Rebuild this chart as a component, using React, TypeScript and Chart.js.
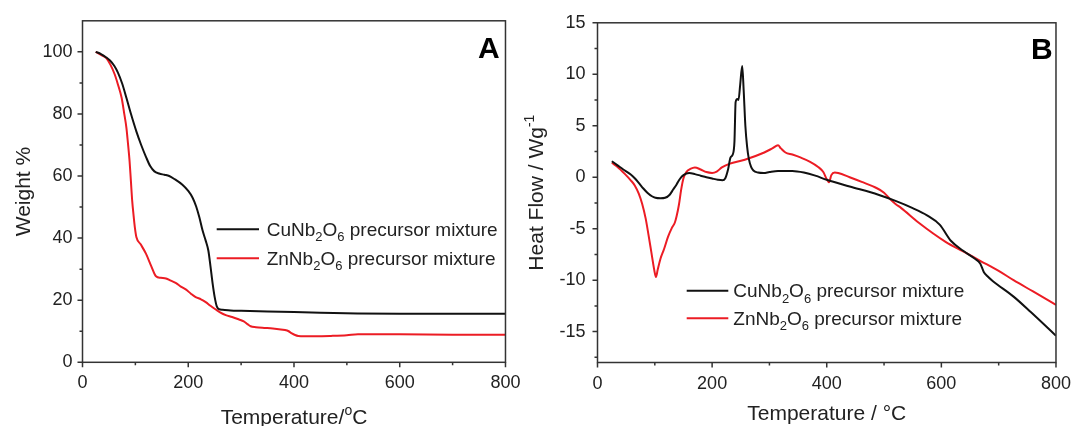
import React, { useEffect, useRef } from 'react';
import { Chart, registerables } from 'chart.js';
Chart.register(...registerables);

// ---------- data ----------
const TGA_CU_T = [25, 35, 45, 52, 60, 67, 75, 83, 92, 102, 111, 120, 128, 136, 145, 155, 164, 175, 189, 200, 208, 215, 221, 227, 233, 238, 242, 246, 250, 254, 258, 265, 280, 300, 350, 400, 450, 520, 600, 700, 800];
const TGA_CU_W = [100, 99.3, 98.2, 97.2, 95.5, 93.3, 89.8, 85.2, 79.8, 74.3, 70, 66.2, 63.2, 61.5, 60.8, 60.4, 60, 58.9, 57.2, 55.2, 53.1, 50.2, 46.7, 42.5, 39.2, 36, 31, 25.5, 21, 18, 17.1, 16.9, 16.7, 16.6, 16.4, 16.2, 16, 15.7, 15.6, 15.6, 15.6];
const TGA_ZN_T = [25, 35, 45, 53, 61, 67, 74, 79, 83, 86, 89, 91.5, 94, 96.5, 99, 102, 110, 120, 130, 139, 148, 158, 167, 177, 186, 196, 205, 214, 224, 233, 242, 252, 261, 271, 283, 296, 305, 312, 318, 328, 340, 360, 383, 390, 396, 402, 408, 420, 442, 470, 500, 521, 560, 600, 700, 800];
const TGA_ZN_W = [100, 99, 98, 95.8, 92.7, 89.5, 85.2, 80, 75.6, 70.5, 64.9, 58.5, 52, 47.5, 43.5, 40.3, 38, 35, 31, 27.7, 27.2, 27, 26.3, 25.5, 24.4, 23.4, 22.1, 21, 20.3, 19.4, 18.2, 17, 16, 15.2, 14.6, 13.8, 13.2, 12.3, 11.6, 11.3, 11.1, 10.9, 10.4, 10, 9.3, 8.8, 8.5, 8.4, 8.4, 8.5, 8.7, 9, 9, 9, 8.9, 8.9];

const DSC_CU_T = [25, 35, 45, 58, 65, 72, 80, 87, 95, 101, 110, 118, 126, 132, 138, 144, 150, 160, 170, 180, 190, 200, 210, 218, 223, 228, 232, 236, 239, 241, 244, 246, 249, 252.5, 255, 258, 261, 264, 268, 272, 280, 290, 300, 315, 340, 360, 380, 400, 440, 490, 520, 550, 575, 597, 617, 638, 658, 668, 674, 680, 690, 726, 756, 800];
const DSC_CU_H = [1.55, 1.15, 0.75, 0.26, -0.1, -0.55, -1.1, -1.5, -1.85, -2, -2.05, -2, -1.7, -1.2, -0.7, -0.15, 0.2, 0.4, 0.3, 0.15, 0, -0.13, -0.25, -0.3, -0.1, 0.8, 1.9, 2.2, 3.5, 7.3, 7.6, 7.5, 9, 10.8, 8.5, 5, 3, 1.8, 1, 0.65, 0.45, 0.4, 0.5, 0.6, 0.6, 0.45, 0.15, -0.25, -0.9, -1.7, -2.3, -3, -3.7, -4.6, -6.2, -7.15, -7.9, -8.4, -9.2, -9.6, -10.1, -11.6, -13.1, -15.4];
const DSC_ZN_T = [25, 35, 48, 58, 65, 72, 78, 84, 89, 94, 99, 102, 105, 110, 116, 123, 130, 135, 138, 142, 146, 150, 155, 162, 170, 180, 190, 200, 208, 217, 230, 257, 291, 305, 315, 320, 328, 340, 355, 371, 385, 394, 400, 404, 408, 414, 420, 440, 461, 485, 500, 510, 520, 530, 560, 608, 638, 667, 700, 726, 760, 800];
const DSC_ZN_H = [1.4, 1, 0.3, -0.3, -0.8, -1.6, -2.6, -4, -5.6, -7.3, -9, -9.7, -9, -7.9, -7, -5.8, -4.9, -4.4, -3.8, -2.7, -1.2, -0.1, 0.5, 0.8, 0.95, 0.75, 0.5, 0.42, 0.55, 0.95, 1.3, 1.7, 2.4, 2.8, 3.1, 2.8, 2.4, 2.2, 1.9, 1.5, 1, 0.5, -0.2, -0.5, 0.2, 0.45, 0.4, 0, -0.45, -1, -1.5, -2.1, -2.6, -3, -4.4, -6.3, -7.2, -8.1, -9.1, -10, -11.1, -12.4];

const X_TICKS = [0, 200, 400, 600, 800];
const X_MINOR = [100, 300, 500, 700];
const A_Y_TICKS = [0, 20, 40, 60, 80, 100];
const A_Y_MINOR = [10, 30, 50, 70, 90];
const B_Y_TICKS = [-15, -10, -5, 0, 5, 10, 15];
const B_Y_MINOR = [-17.5, -12.5, -7.5, -2.5, 2.5, 7.5, 12.5];

type Part = { t: string; k?: 'sub' | 'sup' };
const CU_LABEL: Part[] = [{ t: 'CuNb' }, { t: '2', k: 'sub' }, { t: 'O' }, { t: '6', k: 'sub' }, { t: ' precursor mixture' }];
const ZN_LABEL: Part[] = [{ t: 'ZnNb' }, { t: '2', k: 'sub' }, { t: 'O' }, { t: '6', k: 'sub' }, { t: ' precursor mixture' }];
const A_X_TITLE: Part[] = [{ t: 'Temperature/' }, { t: 'o', k: 'sup' }, { t: 'C' }];
const A_Y_TITLE: Part[] = [{ t: 'Weight %' }];
const B_X_TITLE: Part[] = [{ t: 'Temperature / °C' }];
const B_Y_TITLE: Part[] = [{ t: 'Heat Flow / Wg' }, { t: '-1', k: 'sup' }];

const BLACK = '#111111';
const RED = '#ec1c24';
const AXIS = '#333333';
const TEXT = '#222222';
const FAMILY = '"Liberation Sans", Arial, Helvetica, sans-serif';

function font(size: number, bold = false) {
  return `${bold ? 'bold ' : ''}${size}px ${FAMILY}`;
}

function richWidth(ctx: CanvasRenderingContext2D, parts: Part[], size: number) {
  let w = 0;
  for (const p of parts) {
    ctx.font = font(p.k ? Math.round(size * 0.68) : size);
    w += ctx.measureText(p.t).width;
  }
  return w;
}

function drawRich(ctx: CanvasRenderingContext2D, parts: Part[], x: number, y: number, size: number, center: boolean) {
  ctx.textAlign = 'left';
  ctx.textBaseline = 'alphabetic';
  let cx = center ? x - richWidth(ctx, parts, size) / 2 : x;
  for (const p of parts) {
    const s = p.k ? Math.round(size * 0.68) : size;
    ctx.font = font(s);
    const dy = p.k === 'sub' ? size * 0.28 : p.k === 'sup' ? -size * 0.42 : 0;
    ctx.fillText(p.t, cx, y + dy);
    cx += ctx.measureText(p.t).width;
  }
}

type Cfg = {
  left: number; top: number; padRight: number; xH: number;
  yMin: number; yMax: number; yTicks: number[]; yMinor: number[];
  yPad: number; xPad: number;
  series: { x: number[]; y: number[]; color: string; label: Part[] }[];
  legend: { x1: number; x2: number; tx: number; ys: number[] };
  letter: { t: string; x: number; y: number };
  xTitle: { parts: Part[]; y: number };
  yTitle: { parts: Part[]; x: number };
};

function framePlugin(cfg: Cfg) {
  return {
    id: 'frame',
    afterDraw(chart: any) {
      const { ctx, chartArea: ca, scales } = chart;
      const xs = scales.x, ys = scales.y;
      ctx.save();
      ctx.strokeStyle = AXIS;
      ctx.lineWidth = 1.5;
      ctx.strokeRect(ca.left, ca.top, ca.right - ca.left, ca.bottom - ca.top);
      ctx.beginPath();
      X_TICKS.forEach(v => { const p = xs.getPixelForValue(v); ctx.moveTo(p, ca.bottom); ctx.lineTo(p, ca.bottom + 5); });
      X_MINOR.forEach(v => { const p = xs.getPixelForValue(v); ctx.moveTo(p, ca.bottom); ctx.lineTo(p, ca.bottom + 3); });
      cfg.yTicks.forEach(v => { const p = ys.getPixelForValue(v); ctx.moveTo(ca.left, p); ctx.lineTo(ca.left - 5, p); });
      cfg.yMinor.forEach(v => { const p = ys.getPixelForValue(v); ctx.moveTo(ca.left, p); ctx.lineTo(ca.left - 3, p); });
      ctx.stroke();

      // legend
      cfg.series.forEach((s, i) => {
        const y = cfg.legend.ys[i];
        ctx.strokeStyle = s.color;
        ctx.lineWidth = 2;
        ctx.beginPath();
        ctx.moveTo(cfg.legend.x1, y);
        ctx.lineTo(cfg.legend.x2, y);
        ctx.stroke();
        ctx.fillStyle = TEXT;
        drawRich(ctx, s.label, cfg.legend.tx, y + 6.7, 19, false);
      });

      // panel letter
      ctx.fillStyle = '#000';
      ctx.font = font(30, true);
      ctx.textAlign = 'left';
      ctx.textBaseline = 'alphabetic';
      ctx.fillText(cfg.letter.t, cfg.letter.x, cfg.letter.y);

      // axis titles
      ctx.fillStyle = TEXT;
      drawRich(ctx, cfg.xTitle.parts, (ca.left + ca.right) / 2, cfg.xTitle.y, 21, true);
      ctx.save();
      ctx.translate(cfg.yTitle.x, (ca.top + ca.bottom) / 2);
      ctx.rotate(-Math.PI / 2);
      drawRich(ctx, cfg.yTitle.parts, 0, 0, 21, true);
      ctx.restore();
      ctx.restore();
    },
  };
}

function makeChart(canvas: HTMLCanvasElement, cfg: Cfg) {
  return new Chart(canvas, {
    type: 'line',
    data: {
      datasets: cfg.series.map(s => ({
        data: s.x.map((x, i) => ({ x, y: s.y[i] })),
        borderColor: s.color,
        borderWidth: 2,
        pointRadius: 0,
        fill: false,
        cubicInterpolationMode: 'monotone',
      })),
    },
    options: {
      animation: false,
      responsive: false,
      events: [],
      layout: { padding: { left: 0, top: cfg.top, right: cfg.padRight, bottom: 0 } },
      plugins: { legend: { display: false }, tooltip: { enabled: false }, title: { display: false } },
      scales: {
        x: {
          type: 'linear', min: 0, max: 800,
          afterBuildTicks: (s: any) => { s.ticks = X_TICKS.map(v => ({ value: v })); },
          afterFit: (s: any) => { s.height = cfg.xH; },
          grid: { display: false, drawTicks: false },
          border: { display: false },
          ticks: { padding: cfg.xPad, font: { family: FAMILY, size: 18 }, color: TEXT, maxRotation: 0, autoSkip: false },
        },
        y: {
          type: 'linear', min: cfg.yMin, max: cfg.yMax,
          afterBuildTicks: (s: any) => { s.ticks = cfg.yTicks.map(v => ({ value: v })); },
          afterFit: (s: any) => { s.width = cfg.left; },
          grid: { display: false, drawTicks: false },
          border: { display: false },
          ticks: { padding: cfg.yPad, font: { family: FAMILY, size: 18 }, color: TEXT, autoSkip: false },
        },
      },
    } as any,
    plugins: [framePlugin(cfg)],
  });
}

const CFG_A: Cfg = {
  left: 82.5, top: 19.5, padRight: 530 - 508.5, xH: 426 - 19.5 - (362.3 - 19.5) - 0,
  yMin: 0, yMax: 110, yTicks: A_Y_TICKS, yMinor: A_Y_MINOR, yPad: 10, xPad: 9.5,
  series: [
    { x: TGA_CU_T, y: TGA_CU_W, color: BLACK, label: CU_LABEL },
    { x: TGA_ZN_T, y: TGA_ZN_W, color: RED, label: ZN_LABEL },
  ],
  legend: { x1: 216.7, x2: 259, tx: 266.7, ys: [229.3, 258.3] },
  letter: { t: 'A', x: 478, y: 58.3 },
  xTitle: { parts: A_X_TITLE, y: 424 },
  yTitle: { parts: A_Y_TITLE, x: 30 },
};

const OFF_B = 515;
const CFG_B: Cfg = {
  left: 597.5 - OFF_B, top: 20, padRight: 1082 - 1066.5, xH: 426 - 362.5,
  yMin: -18, yMax: 15, yTicks: B_Y_TICKS, yMinor: B_Y_MINOR, yPad: 12, xPad: 11,
  series: [
    { x: DSC_CU_T, y: DSC_CU_H, color: BLACK, label: CU_LABEL },
    { x: DSC_ZN_T, y: DSC_ZN_H, color: RED, label: ZN_LABEL },
  ],
  legend: { x1: 686.7 - OFF_B, x2: 728.3 - OFF_B, tx: 733.3 - OFF_B, ys: [290.7, 318.3] },
  letter: { t: 'B', x: 1031 - OFF_B, y: 59 },
  xTitle: { parts: B_X_TITLE, y: 420 },
  yTitle: { parts: B_Y_TITLE, x: 543 - OFF_B },
};

export default function App() {
  const refA = useRef<HTMLCanvasElement>(null);
  const refB = useRef<HTMLCanvasElement>(null);
  useEffect(() => {
    const a = makeChart(refA.current!, CFG_A);
    const b = makeChart(refB.current!, CFG_B);
    return () => { a.destroy(); b.destroy(); };
  }, []);
  return (
    <div style={{ position: 'absolute', left: 0, top: 0, width: 1082, height: 426, background: '#fff', overflow: 'hidden' }}>
      <canvas ref={refA} width={530} height={426} style={{ position: 'absolute', left: 0, top: 0, width: 530, height: 426 }} />
      <canvas ref={refB} width={1082 - OFF_B} height={426} style={{ position: 'absolute', left: OFF_B, top: 0, width: 1082 - OFF_B, height: 426 }} />
    </div>
  );
}
